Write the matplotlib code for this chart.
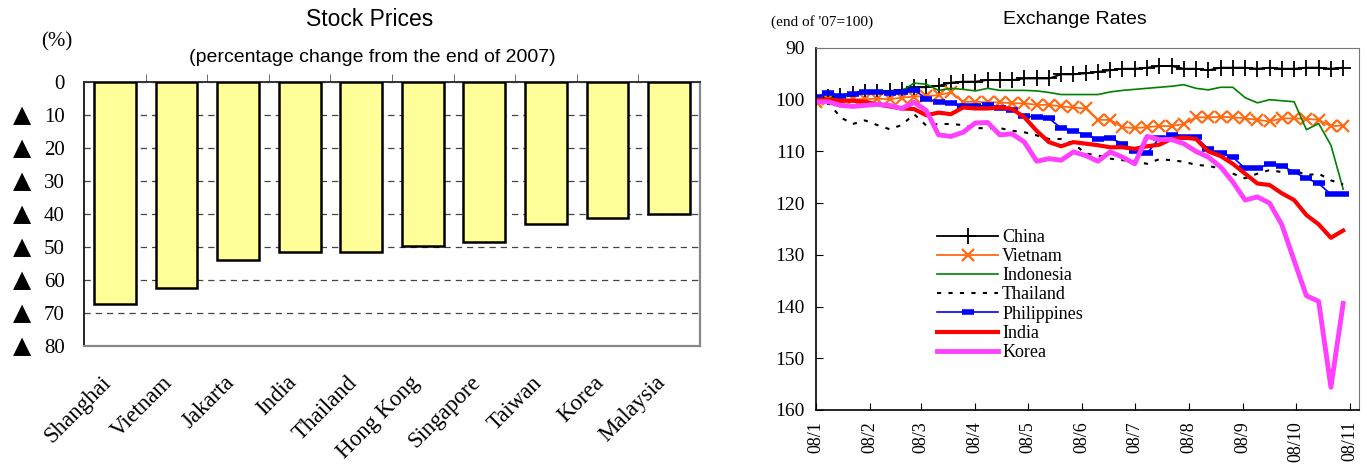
import numpy as np
import pandas as pd
import matplotlib
matplotlib.use("Agg")
import matplotlib.pyplot as plt
import matplotlib.transforms as mtransforms

SERIF = ["Liberation Serif", "DejaVu Sans"]
SANS = ["Liberation Sans", "DejaVu Sans"]

# left panel: stock prices, % change from end of 2007
markets = ["Shanghai", "Vietnam", "Jakarta", "India", "Thailand",
           "Hong Kong", "Singapore", "Taiwan", "Korea", "Malaysia"]
stock_change = [-67.2, -62.4, -53.9, -51.5, -51.5, -49.7, -48.4, -43.0, -41.2, -40.0]
stock_ticks = [0, -10, -20, -30, -40, -50, -60, -70, -80]
stock_tick_labels = ["0", "10", "20", "30", "40", "50", "60", "70", "80"]

# right panel: exchange rates, weekly, end of '07 = 100
dates = pd.date_range("2008-01-01", periods=44, freq="7D")
china = [99.6, 99.4, 99.2, 98.9, 98.6, 98.5, 98.3, 98.1, 97.6, 97.6, 97.3, 96.7,
         96.5, 96.5, 96.2, 96.2, 96.2, 95.9, 95.9, 95.9, 95.1, 95.1, 94.9, 94.6,
         94.3, 94.0, 94.0, 93.8, 93.5, 93.5, 94.0, 94.0, 94.3, 93.8, 93.8, 93.8,
         94.0, 93.8, 94.0, 94.0, 93.8, 93.8, 94.0, 93.8]
vietnam = [100.4, 99.9, 100.0, 99.9, 99.9, 99.8, 99.9, 99.6, 99.4, 99.3, 99.1, 98.6,
           100.4, 100.4, 100.5, 100.5, 100.7, 100.7, 101.0, 101.0, 101.3, 101.5, 101.7, 103.9,
           103.9, 105.3, 105.5, 105.3, 105.1, 105.1, 104.7, 103.4, 103.4, 103.3, 103.4, 103.6,
           103.9, 104.2, 103.6, 103.6, 103.7, 103.9, 105.1, 105.0]
indonesia = [100.0, 99.8, 99.6, 99.2, 98.8, 98.6, 98.4, 98.3, 96.8, 97.0, 98.2, 97.8,
             98.0, 98.3, 97.8, 98.2, 98.2, 98.2, 98.3, 98.6, 99.0, 99.0, 99.0, 99.0,
             98.5, 98.2, 98.0, 97.8, 97.6, 97.4, 97.1, 97.8, 98.1, 97.6, 97.6, 99.6,
             100.6, 100.0, 100.2, 100.4, 105.8, 104.6, 108.8, 117.3]
thailand = [100.2, 100.5, 103.4, 104.7, 104.0, 104.9, 105.7, 104.9, 102.8, 105.0, 104.7, 104.7,
            104.9, 105.5, 105.5, 105.5, 106.0, 106.3, 106.9, 107.6, 107.6, 108.5, 110.4, 110.8,
            111.4, 111.7, 111.9, 112.4, 111.5, 111.7, 112.0, 112.6, 112.8, 113.3, 114.3, 115.2,
            114.3, 113.6, 114.0, 113.6, 114.6, 114.3, 115.6, 116.4]
philippines = [99.5, 98.8, 99.3, 98.9, 98.5, 98.6, 98.8, 98.5, 98.1, 99.8, 100.5, 100.7,
               101.3, 101.3, 101.0, 101.7, 101.9, 103.1, 103.4, 103.6, 105.5, 106.0, 106.8, 107.6,
               107.4, 108.5, 110.0, 110.4, 107.4, 106.8, 107.3, 107.3, 109.5, 110.4, 111.1, 113.3,
               113.3, 112.4, 112.8, 114.0, 115.2, 116.2, 118.3, 118.3]
india = [100.0, 100.0, 100.2, 100.2, 100.4, 100.9, 101.3, 101.7, 101.8, 103.0, 102.5, 102.8,
         101.5, 101.7, 101.7, 101.5, 101.8, 103.4, 106.0, 108.2, 109.0, 108.2, 108.5, 108.8,
         109.2, 109.2, 109.5, 109.0, 108.7, 107.6, 107.3, 107.6, 110.0, 110.9, 112.4, 114.3,
         116.2, 116.5, 118.1, 119.4, 122.3, 124.1, 126.7, 125.3]
korea = [100.4, 100.4, 101.1, 101.3, 101.1, 100.9, 101.1, 101.7, 100.5, 102.1, 106.8, 107.1,
         106.3, 104.5, 104.4, 106.8, 106.6, 108.2, 111.9, 111.4, 111.7, 110.1, 110.8, 111.9,
         110.1, 111.1, 112.4, 107.1, 107.7, 107.7, 108.5, 110.0, 111.1, 113.0, 115.9, 119.4,
         118.8, 120.0, 124.2, 131.1, 137.9, 139.0, 155.6, 139.4]

fig = plt.figure(figsize=(13.67, 4.65), dpi=100)

# ---- stock prices ----
ax1 = fig.add_axes([0.0615, 0.2559, 0.4505, 0.5677])
x = np.arange(len(markets))
ax1.bar(x, stock_change, width=0.68, color="#FFFF99", edgecolor="black",
        linewidth=1.8, zorder=3)
ax1.set_xlim(-0.5, len(markets) - 0.5)
ax1.set_ylim(-80, 0)
ax1.set_yticks(stock_ticks)
ax1.set_yticklabels(stock_tick_labels, family=SERIF, fontsize=15)
ax1.yaxis.grid(True, linestyle=(0, (5, 4)), color="#444444", linewidth=0.9)
ax1.set_axisbelow(True)

# the "minus" triangles in front of the tick numbers
tri_trans = mtransforms.blended_transform_factory(ax1.transAxes, ax1.transData)
for v in stock_ticks[1:]:
    ax1.text(-0.1, v, "▲", transform=tri_trans, family="DejaVu Sans", fontsize=17,
             ha="center", va="center", clip_on=False)

# category names drawn by hand so they can sit a bit left of each bar
ax1.set_xticks([])
name_trans = mtransforms.blended_transform_factory(ax1.transData, ax1.transAxes) + \
    mtransforms.ScaledTranslation(-14 / 100, -26 / 100, fig.dpi_scale_trans)
for i, name in enumerate(markets):
    ax1.text(i, 0, name, transform=name_trans, family=SERIF, fontsize=16.5,
             rotation=45, ha="right", va="top", rotation_mode="anchor", clip_on=False)
ax1.set_xticks(np.arange(0.5, len(markets) - 0.5, 1.0), minor=True)
ax1.tick_params(axis="x", which="minor", bottom=False, top=True, direction="out",
                length=6, color="#555555")
ax1.tick_params(axis="y", length=0, pad=14)
for side in ("right", "bottom"):
    ax1.spines[side].set_color("#888888")
    ax1.spines[side].set_linewidth(1.6)
ax1.spines["top"].set_color("#333333")
ax1.spines["top"].set_linewidth(1.4)
ax1.spines["left"].set_linewidth(1.2)

fig.text(0.2707, 0.957, "Stock Prices", family=SANS, fontsize=16.5,
         ha="center", va="center")
fig.text(0.272, 0.877, "(percentage change from the end of 2007)", family=SANS,
         fontsize=14, ha="center", va="center")
fig.text(0.0417, 0.91, "(%)", family=SERIF, fontsize=15, ha="center", va="center")

# ---- exchange rates ----
ax2 = fig.add_axes([0.5969, 0.1183, 0.3972, 0.7785])
ax2.plot(dates, china, color="black", lw=1.3, marker="+", ms=11, mew=1.3, label="China")
ax2.plot(dates, vietnam, color="#FF6A13", lw=1.3, marker="x", ms=9, mew=1.6, label="Vietnam")
ax2.plot(dates, indonesia, color="#008000", lw=1.2, label="Indonesia")
ax2.plot(dates, thailand, color="black", lw=1.5, linestyle=(0, (2, 3.5)), label="Thailand")
ax2.plot(dates, philippines, color="#0000FF", lw=1.2, marker="_", ms=9, mew=4,
         label="Philippines")
ax2.plot(dates, india, color="#FF0000", lw=3, label="India")
ax2.plot(dates, korea, color="#FF40FF", lw=3.5, label="Korea")

ax2.set_ylim(160, 90)
ax2.set_yticks(range(90, 161, 10))
ax2.set_xlim(pd.Timestamp("2008-01-01"), pd.Timestamp("2008-11-06"))
months = pd.date_range("2008-01-01", "2008-11-01", freq="MS")
ax2.set_xticks(months)
ax2.set_xticklabels([f"08/{d.month}" for d in months], rotation=90,
                    family=SERIF, fontsize=13)
ax2.tick_params(axis="both", direction="in", length=5)
ax2.tick_params(axis="x", pad=8)
ax2.tick_params(axis="y", labelsize=14, pad=8)
for lab in ax2.get_yticklabels():
    lab.set_family(SERIF)
for side in ("right", "top"):
    ax2.spines[side].set_color("#777777")
ax2.spines["left"].set_linewidth(1.2)
ax2.spines["bottom"].set_linewidth(1.2)

ax2.legend(loc="upper left", bbox_to_anchor=(0.223, 0.50), frameon=False,
           prop={"family": SERIF, "size": 13}, handlelength=3.4,
           handletextpad=0.2, labelspacing=0.12, borderpad=0, borderaxespad=0)

fig.text(0.786, 0.957, "Exchange Rates", family=SANS, fontsize=14,
         ha="center", va="center")
fig.text(0.601, 0.953, "(end of '07=100)", family=SERIF, fontsize=11,
         ha="center", va="center")

fig.savefig("out.png", dpi=100)
